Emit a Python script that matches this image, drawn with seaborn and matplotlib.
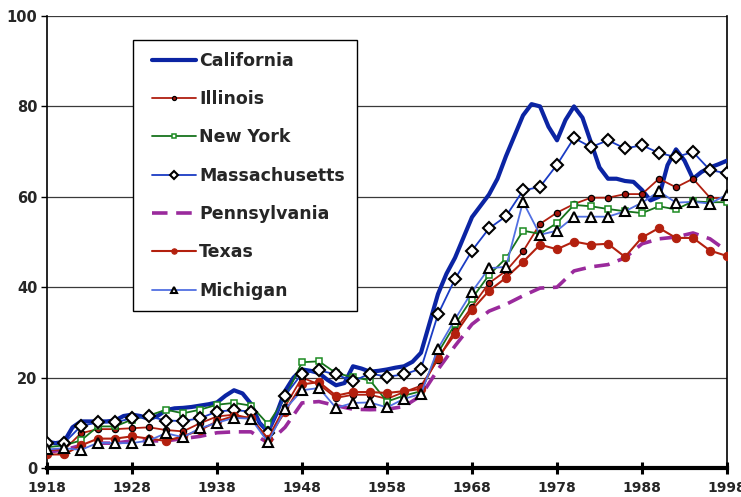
import matplotlib
matplotlib.use("Agg")
import matplotlib.pyplot as plt
import seaborn as sns
from matplotlib.legend_handler import HandlerLine2D
from matplotlib.lines import Line2D

# Biennial series (1918-1998) and an annual series for California
years = list(range(1918, 1999, 2))
ca_years = list(range(1918, 1999))

california = [5.8, 5.5, 5.8, 9.0, 10.3, 10.3, 10.3, 10.3, 10.5, 11.5,
              11.8, 11.5, 10.8, 11.5, 12.8, 13.2, 13.3, 13.5, 13.8, 14.1,
              14.5, 16.0, 17.2, 16.5, 14.2, 10.0, 8.0, 12.0, 17.0, 20.0,
              21.8, 21.5, 21.0, 19.5, 18.3, 18.8, 22.5, 22.0, 21.3, 21.5,
              21.8, 22.2, 22.5, 23.5, 25.5, 32.0, 38.5, 43.0, 46.5, 51.0,
              55.5, 58.0, 60.5, 64.0, 69.0, 73.5, 78.0, 80.5, 80.0, 75.5,
              72.5, 77.0, 80.0, 77.5, 72.0, 66.5, 64.0, 64.0, 63.5, 63.3,
              61.5, 59.2, 60.0, 67.0, 70.5, 68.0, 64.0, 65.5, 66.5, 67.2,
              68.0]

illinois = [4.0, 4.0, 7.7, 8.6, 8.6, 8.8, 9.0, 8.4, 8.1, 9.9,
            11.4, 11.8, 11.0, 6.6, 13.6, 20.0, 18.5, 15.5, 16.2, 16.2,
            15.3, 16.8, 18.2, 24.0, 30.5, 35.7, 40.9, 43.6, 47.9, 54.0,
            56.5, 58.4, 59.8, 59.8, 60.6, 60.6, 64.0, 62.1, 64.0, 59.8,
            59.6]

new_york = [4.6, 5.0, 6.1, 9.2, 9.2, 10.7, 11.6, 12.9, 12.1, 12.9,
            14.0, 14.4, 13.8, 9.7, 15.5, 23.4, 23.6, 21.0, 20.1, 19.4,
            14.7, 16.0, 17.0, 25.5, 31.8, 37.5, 42.7, 46.4, 52.5, 51.8,
            54.2, 58.2, 57.9, 57.3, 56.8, 56.4, 57.9, 57.2, 59.0, 58.8,
            58.8]

massachusetts = [5.5, 5.5, 9.3, 10.1, 10.1, 11.0, 11.4, 10.5, 10.4, 11.0,
                 12.5, 12.8, 12.5, 7.8, 16.0, 20.9, 21.6, 20.7, 19.2, 20.9,
                 20.2, 20.7, 22.0, 34.0, 41.8, 48.1, 53.0, 55.7, 61.4, 62.2,
                 67.1, 73.0, 71.0, 72.5, 70.7, 71.4, 69.7, 68.8, 69.9, 65.9,
                 65.2]

pennsylvania = [3.5, 4.0, 5.0, 5.5, 5.5, 6.0, 6.0, 6.0, 6.5, 7.0,
                7.8, 8.0, 8.0, 5.5, 9.0, 14.4, 14.7, 13.8, 13.0, 12.9,
                13.0, 13.6, 16.0, 21.8, 27.0, 31.8, 34.7, 36.2, 38.1, 39.8,
                40.0, 43.6, 44.5, 45.0, 46.5, 49.6, 50.7, 51.1, 52.0, 50.7,
                48.0]

texas = [3.0, 3.0, 5.0, 6.5, 6.5, 7.0, 6.5, 6.0, 7.0, 8.4,
         10.3, 11.5, 11.0, 6.5, 12.5, 18.5, 19.0, 16.0, 16.8, 16.8,
         16.6, 17.0, 17.5, 24.4, 29.6, 35.0, 39.2, 42.1, 45.6, 49.4,
         48.4, 50.1, 49.4, 49.6, 46.7, 51.0, 53.1, 50.9, 50.9, 48.1,
         46.9]

michigan = [4.1, 4.4, 4.0, 5.6, 5.5, 5.5, 6.1, 7.7, 6.8, 8.8,
            10.0, 11.1, 10.9, 5.7, 13.0, 17.2, 17.7, 13.3, 14.4, 14.5,
            13.4, 15.3, 16.4, 26.4, 32.9, 39.0, 44.2, 44.5, 58.9, 51.6,
            52.5, 55.6, 55.6, 55.6, 56.8, 58.7, 61.2, 58.7, 58.9, 58.5,
            60.5]

x_ticks = [1918, 1928, 1938, 1948, 1958, 1968, 1978, 1988, 1998]
y_ticks = [0, 20, 40, 60, 80, 100]

sns.set_theme(style="white")
plt.rcParams["font.family"] = ["DejaVu Sans"]
plt.rcParams["font.weight"] = "bold"

fig = plt.figure(figsize=(7.41, 4.97), dpi=100)
ax = fig.add_axes([47 / 741, 1 - 468 / 497, 680 / 741, 452 / 497])

sns.lineplot(x=ca_years, y=california, ax=ax, color="#0b24a3", lw=3.0,
             label="California", zorder=3)
sns.lineplot(x=years, y=illinois, ax=ax, color="#b01f10", lw=1.3,
             marker="o", markersize=4.5, markerfacecolor="#a3140c",
             markeredgecolor="black", markeredgewidth=0.9,
             label="Illinois", zorder=4)
sns.lineplot(x=years, y=new_york, ax=ax, color="#17731c", lw=1.3,
             marker="s", markersize=5, markerfacecolor="white",
             markeredgecolor="#1c8c22", markeredgewidth=1.1,
             label="New York", zorder=4)
sns.lineplot(x=years, y=massachusetts, ax=ax, color="#1a3cc4", lw=1.3,
             marker="D", markersize=6.5, markerfacecolor="white",
             markeredgecolor="black", markeredgewidth=1.5,
             label="Massachusetts", zorder=4)
sns.lineplot(x=years, y=pennsylvania, ax=ax, color="#9a2a9c", lw=2.6,
             linestyle=(0, (4.3, 2.4)), label="Pennsylvania", zorder=2)
sns.lineplot(x=years, y=texas, ax=ax, color="#b3200e", lw=1.5,
             marker="o", markersize=6, markerfacecolor="#b3200e",
             markeredgecolor="#b3200e", label="Texas", zorder=4)
sns.lineplot(x=years, y=michigan, ax=ax, color="#5270e2", lw=1.3,
             marker="^", markersize=7.5, markerfacecolor="white",
             markeredgecolor="black", markeredgewidth=1.5,
             label="Michigan", zorder=5)

ax.set_xlim(1918, 1998)
ax.set_ylim(0, 100)
ax.set_xticks(x_ticks)
ax.set_yticks(y_ticks)
ax.set_xticklabels([str(t) for t in x_ticks], fontsize=10, fontweight="bold")
ax.set_yticklabels([str(t) for t in y_ticks], fontsize=10.5, fontweight="bold")
ax.set_xlabel("")
ax.set_ylabel("")

ax.yaxis.grid(True, color="#3a3a3a", lw=0.9)
ax.set_axisbelow(True)

ax.spines["top"].set_visible(False)
ax.spines["right"].set_color("black")
ax.spines["right"].set_linewidth(1.2)
ax.spines["left"].set_color("black")
ax.spines["left"].set_linewidth(1.2)
ax.spines["bottom"].set_color("black")
ax.spines["bottom"].set_linewidth(3.0)

ax.tick_params(axis="x", direction="inout", length=9, width=2.2,
               color="black", pad=5, bottom=True)
ax.tick_params(axis="y", direction="out", length=4, width=1.0,
               color="black", pad=3, left=True)

# legend handles start a little in from the frame, as in the key box
line_handler = HandlerLine2D(xpad=0.42)
handles, labels = ax.get_legend_handles_labels()
leg = ax.legend(handles, labels,
                loc="upper left", bbox_to_anchor=(86 / 680, 1 - 24 / 452),
                frameon=True, fancybox=False, shadow=False,
                prop={"weight": "bold", "size": 12.5},
                handlelength=2.95, handletextpad=0.17, labelspacing=1.17,
                borderpad=0.68, borderaxespad=0.0, markerscale=0.65,
                handler_map={Line2D: line_handler})
leg.get_frame().set_edgecolor("black")
leg.get_frame().set_linewidth(1.0)
leg.get_frame().set_alpha(1.0)

fig.savefig("out.png", dpi=100)
